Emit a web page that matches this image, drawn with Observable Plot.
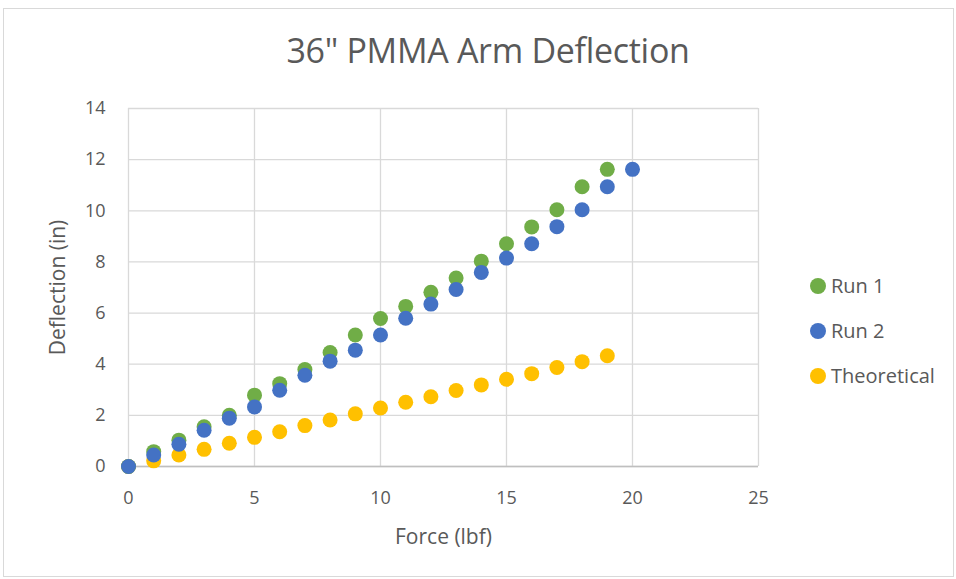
<!DOCTYPE html>
<html>
<head>
<meta charset="utf-8">
<script src="https://cdn.jsdelivr.net/npm/d3@7"></script>
<script src="https://cdn.jsdelivr.net/npm/@observablehq/plot@0.6"></script>
<style>
  html, body { margin: 0; padding: 0; background: #fff; }
  #chart { position: relative; width: 956px; height: 579px; font-family: "Open Sans", "Liberation Sans", sans-serif; color: #595959; }
  #frame { position: absolute; left: 3px; top: 8px; width: 951px; height: 569px; border: 1px solid #d9d9d9; box-sizing: border-box; pointer-events: none; }
  #title { position: absolute; left: 0; top: 27px; width: 976px; text-align: center; font-size: 34px; font-weight: 400; letter-spacing: -0.3px; }
  #plot { position: absolute; left: 0; top: 0; }
  #legend { position: absolute; left: 810px; top: 272px; font-size: 20px; }
  #legend div { height: 45px; display: flex; align-items: flex-start; }
  #legend span.sw { display: inline-block; width: 16px; height: 16px; border-radius: 50%; margin-right: 5px; margin-top: 6px; }
</style>
</head>
<body>
<div id="chart">
  <div id="frame"></div>
  <div id="plot"></div>
  <div id="title">36" PMMA Arm Deflection</div>
  <div id="legend"></div>
</div>
<script>
// Applied force (lbf)
const force = [0, 1, 2, 3, 4, 5, 6, 7, 8, 9, 10, 11, 12, 13, 14, 15, 16, 17, 18, 19, 20];

// Measured deflection (in) for each run, and the theoretical prediction
const run1 = [0, 0.58, 1.03, 1.55, 2.0, 2.79, 3.24, 3.79, 4.46, 5.14, 5.79, 6.26, 6.81, 7.37, 8.03, 8.71, 9.37, 10.04, 10.94, 11.62];
const run2 = [0, 0.45, 0.87, 1.42, 1.89, 2.33, 2.98, 3.57, 4.12, 4.55, 5.14, 5.80, 6.35, 6.92, 7.59, 8.15, 8.71, 9.38, 10.04, 10.94, 11.62];
const theoretical = [0, 0.22, 0.45, 0.67, 0.91, 1.14, 1.36, 1.60, 1.82, 2.06, 2.29, 2.51, 2.73, 2.97, 3.19, 3.41, 3.63, 3.87, 4.10, 4.33];

const seriesNames = ["Run 1", "Run 2", "Theoretical"];
const seriesColors = ["#70ad47", "#4472c4", "#ffc000"];
const xTicks = [0, 5, 10, 15, 20, 25];
const yTicks = [0, 2, 4, 6, 8, 10, 12, 14];

const rows = [];
[run1, run2, theoretical].forEach((vals, i) => {
  vals.forEach((v, j) => rows.push({series: seriesNames[i], force: force[j], deflection: v}));
});
// Theoretical drawn beneath the runs, Run 2 over Run 1
const drawOrder = ["Theoretical", "Run 1", "Run 2"];
rows.sort((a, b) => drawOrder.indexOf(a.series) - drawOrder.indexOf(b.series));

const chart = Plot.plot({
  width: 956,
  height: 579,
  marginLeft: 128,
  marginRight: 198,
  marginTop: 108,
  marginBottom: 113,
  style: {fontFamily: "'Open Sans', 'Liberation Sans', sans-serif", fontSize: "18px", color: "#595959", background: "transparent"},
  x: {domain: [0, 25], label: null},
  y: {domain: [0, 14], label: null},
  color: {domain: seriesNames, range: seriesColors},
  marks: [
    Plot.gridX(xTicks, {stroke: "#d9d9d9", strokeOpacity: 1, strokeWidth: 1.3}),
    Plot.gridY(yTicks, {stroke: "#d9d9d9", strokeOpacity: 1, strokeWidth: 1.3}),
    Plot.ruleY([0], {stroke: "#bfbfbf", strokeWidth: 1.3}),
    Plot.axisX({ticks: xTicks, tickSize: 0, tickPadding: 25, fontSize: 18, label: null}),
    Plot.axisY({ticks: yTicks, tickSize: 0, tickPadding: 23, fontSize: 18, label: null}),
    Plot.dot(rows, {x: "force", y: "deflection", fill: "series", r: 7.5, stroke: null}),
    Plot.text(["Force (lbf)"], {frameAnchor: "bottom", lineAnchor: "middle", dy: 71, fontSize: 21, fill: "#595959"}),
    Plot.text(["Deflection (in)"], {frameAnchor: "left", textAnchor: "middle", lineAnchor: "middle", dx: -70, rotate: -90, fontSize: 21, fill: "#595959"})
  ]
});
document.getElementById("plot").appendChild(chart);

const legend = document.getElementById("legend");
seriesNames.forEach((name, i) => {
  const row = document.createElement("div");
  const sw = document.createElement("span");
  sw.className = "sw";
  sw.style.background = seriesColors[i];
  row.appendChild(sw);
  row.appendChild(document.createTextNode(name));
  legend.appendChild(row);
});
</script>
</body>
</html>
